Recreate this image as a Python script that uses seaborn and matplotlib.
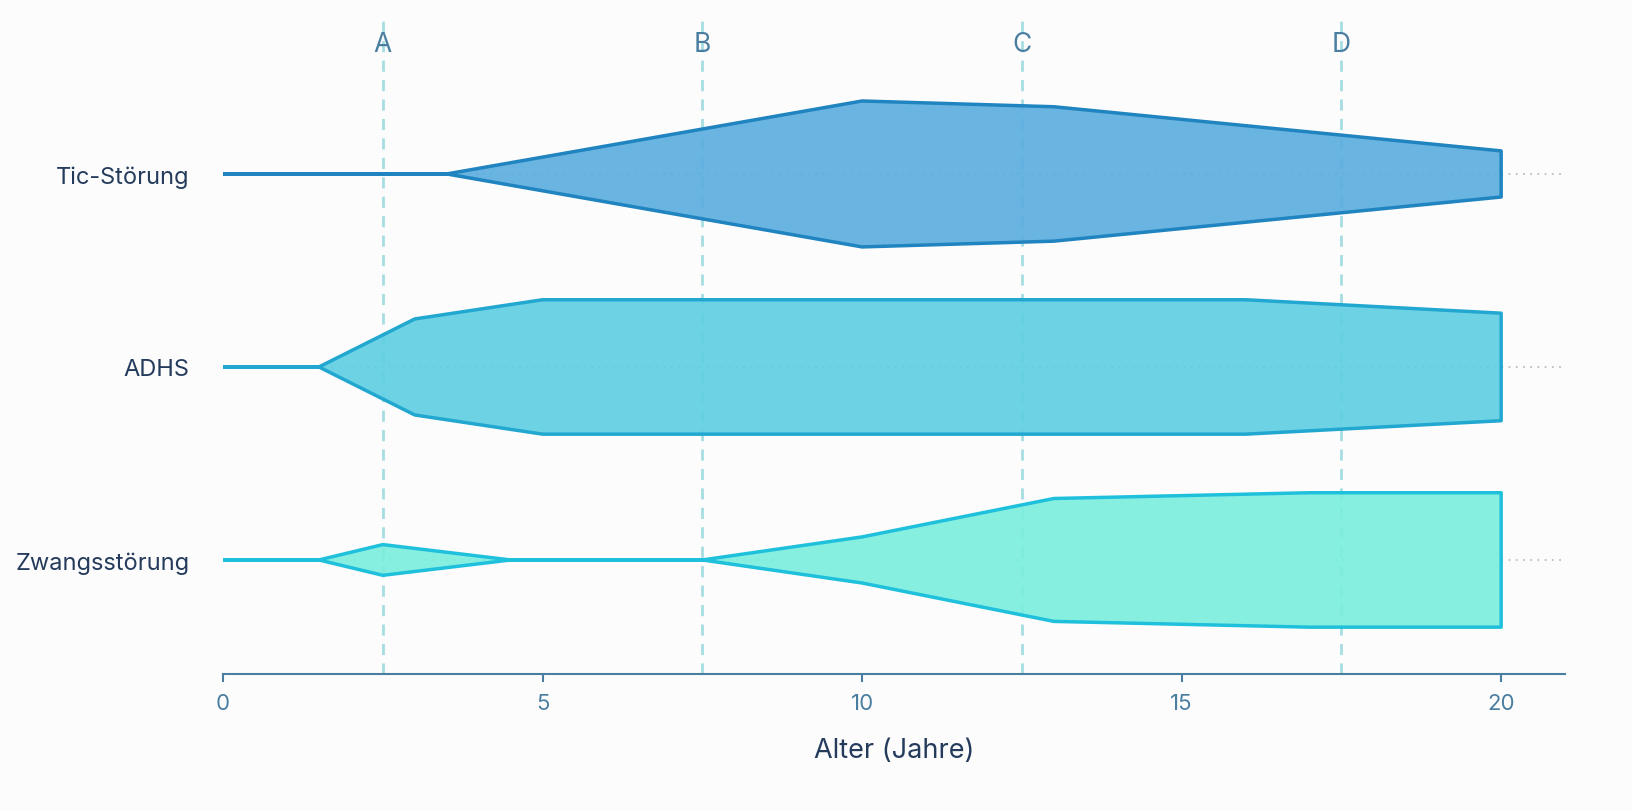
import matplotlib
matplotlib.use("Agg")
import matplotlib.pyplot as plt
import matplotlib.transforms as mtransforms
import seaborn as sns

# Verlauf der Ausprägung je Störung (halbe Breite, in % einer Kategorie-Zeile)
kategorien = ['Tic-Störung', 'ADHS', 'Zwangsstörung']

tic_alter = [0, 3.5, 10, 13, 20]
tic_wert = [0, 0, 38, 35, 12]

adhs_alter = [0, 1.5, 3, 5, 16, 20]
adhs_wert = [0, 0, 25, 35, 35, 28]

zwang_alter = [0, 1.5, 2.5, 4.5, 7.5, 10, 13, 17, 20]
zwang_wert = [0, 0, 8, 0, 0, 12, 32, 35, 35]

phasen = ['A', 'B', 'C', 'D']
phasen_x = [2.5, 7.5, 12.5, 17.5]

x_ticks = [0, 5, 10, 15, 20]

fuellfarben = ['#5aacdf', '#5dcfe2', '#7aeedd']
randfarben = ['#1f84bf', '#21a7d0', '#1fc0dc']

sns.set_theme(style="white")
plt.rcParams['font.family'] = ['Inter', 'DejaVu Sans']

fig = plt.figure(figsize=(16.33, 8.12), dpi=100)
fig.patch.set_facecolor('#fcfcfc')
ax = fig.add_axes([0.1366, 0.1687, 0.8218, 0.8067])
ax.set_facecolor('#fcfcfc')

daten = [(tic_alter, tic_wert), (adhs_alter, adhs_wert), (zwang_alter, zwang_wert)]

# gepunktete Hilfslinien
for i in range(len(kategorien)):
    ax.axhline(i, color='#bdbdbd', lw=1.3, ls=(0, (1, 3)), zorder=0)

# Phasen-Linien
for px in phasen_x:
    ax.axvline(px, color='#a6dde2', lw=2, ls=(0, (4, 3)), zorder=1)

trans = mtransforms.blended_transform_factory(ax.transData, ax.transAxes)
for lab, px in zip(phasen, phasen_x):
    ax.text(px, 0.962, lab, transform=trans, ha='center', va='center',
            fontsize=19, color='#4a7ea0', zorder=5)

for i, (alter, wert) in enumerate(daten):
    hw = [w / 100 * 0.995 for w in wert]
    oben = [i - h for h in hw]
    unten = [i + h for h in hw]
    ax.fill_between(alter, oben, unten, facecolor=fuellfarben[i], alpha=0.9,
                    edgecolor='none', zorder=2)
    ax.fill_between(alter, oben, unten, facecolor='none',
                    edgecolor=randfarben[i], lw=2.5, zorder=3)

ax.set_xlim(0, 21)
ax.set_ylim(2.591, -0.803)
ax.set_yticks(range(len(kategorien)))
ax.set_yticklabels(kategorien, fontsize=17, color='#243b5c')
ax.set_xticks(x_ticks)
ax.set_xticklabels([str(t) for t in x_ticks], fontsize=16, color='#4a7ea0')
ax.tick_params(axis='y', length=0, pad=24)
ax.tick_params(axis='x', length=6, width=1.5, color='#4a7ea0', pad=8, bottom=True)
ax.set_xlabel('Alter (Jahre)', fontsize=19.5, color='#243b5c', labelpad=17)

sns.despine(ax=ax, left=True)
ax.spines['bottom'].set_color('#4a7ea0')
ax.spines['bottom'].set_linewidth(1.5)

fig.savefig('out.png', dpi=100, facecolor=fig.get_facecolor())
